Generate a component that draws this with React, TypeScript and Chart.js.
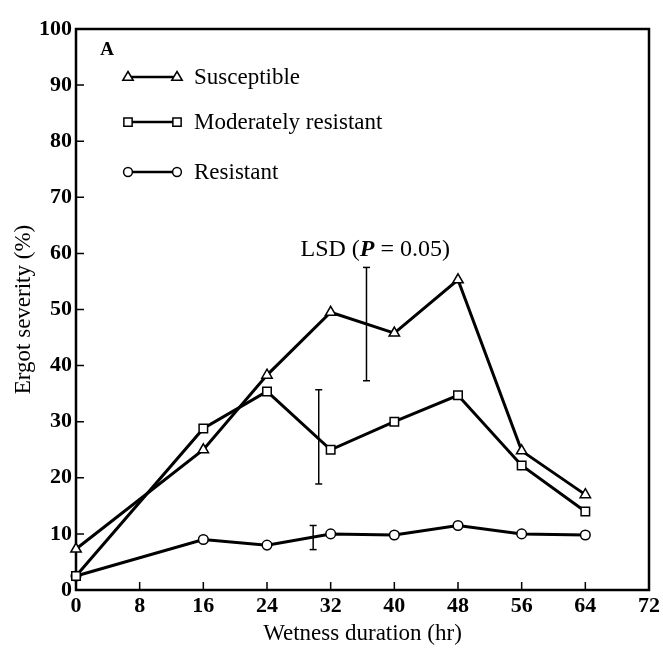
import React, { useEffect, useRef } from 'react';
import { Chart, registerables } from 'chart.js';

Chart.register(...registerables);

// ---- data ----
const hours = [0, 16, 24, 32, 40, 48, 56, 64];
const susceptible = [7.3, 25, 38.3, 49.5, 45.8, 55.3, 24.8, 17];
const moderatelyResistant = [2.5, 28.8, 35.4, 25, 30, 34.7, 22.2, 14];
const resistant = [2.5, 9, 8, 10, 9.8, 11.5, 10, 9.8];
const seriesLabels = ['Susceptible', 'Moderately resistant', 'Resistant'];
const seriesPointStyles = ['triangle', 'rect', 'circle'];

// LSD (P = 0.05) bars
const lsdX = [29.8, 30.5, 36.5];
const lsdLow = [7.2, 18.9, 37.3];
const lsdHigh = [11.5, 35.7, 57.5];

const xMin = 0;
const xMax = 72;
const xStep = 8;
const yMin = 0;
const yMax = 100;
const yStep = 10;

const panelLabel = 'A';
const xTitle = 'Wetness duration (hr)';
const yTitle = 'Ergot severity (%)';

const SERIF = "'Liberation Serif', 'Times New Roman', serif";

function drawMarker(ctx: CanvasRenderingContext2D, style: string, x: number, y: number, r: number) {
  ctx.beginPath();
  if (style === 'triangle') {
    ctx.moveTo(x, y - r);
    ctx.lineTo(x + r * 0.95, y + r * 0.6);
    ctx.lineTo(x - r * 0.95, y + r * 0.6);
    ctx.closePath();
  } else if (style === 'rect') {
    ctx.rect(x - r * 0.75, y - r * 0.75, r * 1.5, r * 1.5);
  } else {
    ctx.arc(x, y, r * 0.8, 0, Math.PI * 2);
  }
  ctx.fillStyle = '#fff';
  ctx.fill();
  ctx.lineWidth = 1.5;
  ctx.strokeStyle = '#000';
  ctx.stroke();
}

const framePlugin = {
  id: 'frame',
  beforeDatasetsDraw(chart: any) {
    const { ctx, chartArea } = chart;
    const xs = chart.scales.x;
    const ys = chart.scales.y;
    ctx.save();
    ctx.strokeStyle = '#000';
    ctx.lineWidth = 2.5;
    ctx.strokeRect(chartArea.left, chartArea.top, chartArea.right - chartArea.left, chartArea.bottom - chartArea.top);
    ctx.lineWidth = 1.5;
    ctx.beginPath();
    xs.ticks.forEach((t: any) => {
      const px = xs.getPixelForValue(t.value);
      ctx.moveTo(px, chartArea.bottom);
      ctx.lineTo(px, chartArea.bottom - 8);
    });
    ys.ticks.forEach((t: any) => {
      const py = ys.getPixelForValue(t.value);
      ctx.moveTo(chartArea.left, py);
      ctx.lineTo(chartArea.left + 8, py);
    });
    ctx.stroke();
    ctx.restore();
  },
  afterDraw(chart: any) {
    const { ctx } = chart;
    const xs = chart.scales.x;
    const ys = chart.scales.y;
    ctx.save();
    // panel label
    ctx.fillStyle = '#000';
    ctx.font = `bold 19px ${SERIF}`;
    ctx.textAlign = 'center';
    ctx.textBaseline = 'middle';
    ctx.fillText(panelLabel, 107, 50);

    // legend
    const rowsY = [77, 122, 172];
    seriesLabels.forEach((lab, i) => {
      const y = rowsY[i];
      ctx.strokeStyle = '#000';
      ctx.lineWidth = 2.5;
      ctx.beginPath();
      ctx.moveTo(128, y);
      ctx.lineTo(177, y);
      ctx.stroke();
      drawMarker(ctx, seriesPointStyles[i], 128, y, 5.5);
      drawMarker(ctx, seriesPointStyles[i], 177, y, 5.5);
      ctx.fillStyle = '#000';
      ctx.font = `23px ${SERIF}`;
      ctx.textAlign = 'left';
      ctx.textBaseline = 'middle';
      ctx.fillText(lab, 194, y + 1);
    });

    // LSD label
    const parts = [
      { t: 'LSD (', f: `24px ${SERIF}` },
      { t: 'P', f: `italic bold 24px ${SERIF}` },
      { t: ' = 0.05)', f: `24px ${SERIF}` },
    ];
    let total = 0;
    parts.forEach((p) => {
      ctx.font = p.f;
      total += ctx.measureText(p.t).width;
    });
    let cx = xs.getPixelForValue(37.6) - total / 2;
    const cy = ys.getPixelForValue(60.6);
    ctx.textAlign = 'left';
    ctx.textBaseline = 'middle';
    parts.forEach((p) => {
      ctx.font = p.f;
      ctx.fillText(p.t, cx, cy);
      cx += ctx.measureText(p.t).width;
    });
    ctx.restore();
  },
};

export default function App() {
  const canvasRef = useRef<HTMLCanvasElement | null>(null);

  useEffect(() => {
    if (!canvasRef.current) return;
    const toXY = (ys: number[]) => hours.map((h, i) => ({ x: h, y: ys[i] }));
    const series = [susceptible, moderatelyResistant, resistant];
    const pointRadii = [6, 6, 4.8];
    const mainSets = series.map((s, i) => ({
      label: seriesLabels[i],
      data: toXY(s),
      borderColor: '#000',
      borderWidth: 3,
      pointStyle: seriesPointStyles[i],
      pointRadius: pointRadii[i],
      pointBackgroundColor: '#fff',
      pointBorderColor: '#000',
      pointBorderWidth: 1.5,
      tension: 0,
      clip: false,
    }));
    const lsdSets = lsdX.map((x, i) => ({
      label: 'LSD ' + i,
      data: [
        { x, y: lsdLow[i] },
        { x, y: lsdHigh[i] },
      ],
      borderColor: '#000',
      borderWidth: 1.5,
      pointStyle: 'line',
      pointRadius: 3.5,
      pointBorderWidth: 1.5,
      pointBorderColor: '#000',
      pointBackgroundColor: '#000',
      tension: 0,
      clip: false,
    }));

    const chart = new Chart(canvasRef.current, {
      type: 'line',
      data: { datasets: [...mainSets, ...lsdSets] as any },
      options: {
        responsive: false,
        animation: false,
        events: [],
        layout: { padding: { left: 0, top: 29, right: 9, bottom: 0 } },
        plugins: {
          legend: { display: false },
          tooltip: { enabled: false },
        },
        scales: {
          x: {
            type: 'linear',
            min: xMin,
            max: xMax,
            afterFit: (scale: any) => {
              scale.height = 60;
            },
            grid: { display: false, drawTicks: false },
            border: { display: false },
            ticks: {
              stepSize: xStep,
              color: '#000',
              padding: 3,
              font: { family: SERIF, size: 22, weight: 'bold' },
            },
            title: {
              display: true,
              text: xTitle,
              color: '#000',
              font: { family: SERIF, size: 23 },
              padding: { top: 0, bottom: 2 },
            },
          },
          y: {
            type: 'linear',
            min: yMin,
            max: yMax,
            afterFit: (scale: any) => {
              scale.width = 76;
            },
            grid: { display: false, drawTicks: false },
            border: { display: false },
            ticks: {
              stepSize: yStep,
              color: '#000',
              padding: 4,
              font: { family: SERIF, size: 22, weight: 'bold' },
            },
            title: {
              display: true,
              text: yTitle,
              color: '#000',
              font: { family: SERIF, size: 23 },
              padding: { top: 10, bottom: 0 },
            },
          },
        },
      },
      plugins: [framePlugin],
    });
    return () => chart.destroy();
  }, []);

  return (
    <div style={{ position: 'absolute', left: 0, top: 0, width: 663, height: 650, background: '#fff' }}>
      <canvas ref={canvasRef} width={663} height={650} style={{ display: 'block' }} />
    </div>
  );
}
